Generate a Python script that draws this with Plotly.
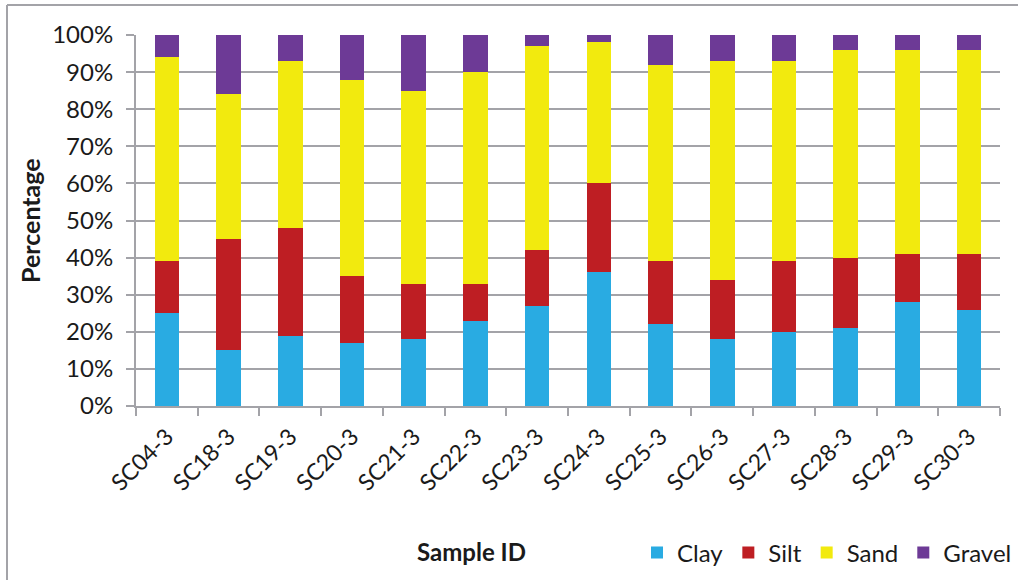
import plotly.graph_objects as go

# Grain-size fractions (%) for each sample
samples = ["SC04-3", "SC18-3", "SC19-3", "SC20-3", "SC21-3", "SC22-3", "SC23-3",
           "SC24-3", "SC25-3", "SC26-3", "SC27-3", "SC28-3", "SC29-3", "SC30-3"]
clay = [25, 15, 19, 17, 18, 23, 27, 36, 22, 18, 20, 21, 28, 26]
silt = [14, 30, 29, 18, 15, 10, 15, 24, 17, 16, 19, 19, 13, 15]
sand = [55, 39, 45, 53, 52, 57, 55, 38, 53, 59, 54, 56, 55, 55]
gravel = [6, 16, 7, 12, 15, 10, 3, 2, 8, 7, 7, 4, 4, 4]

series = [
    ("Clay", clay, "#29ABE2"),
    ("Silt", silt, "#BE1E23"),
    ("Sand", sand, "#F2EA0E"),
    ("Gravel", gravel, "#6D3A96"),
]

FONT = "Lato"
GRID = "#A3A3A8"
TEXT = "#1a1a1a"

# plot area in pixels
L, R, T, B = 136, 1000, 35, 406
PW, PH = R - L, B - T

fig = go.Figure()
for name, vals, color in series:
    fig.add_trace(go.Bar(
        x=samples, y=vals, name=name,
        marker=dict(color=color, line=dict(width=0)),
        width=0.4,
    ))

fig.update_layout(
    barmode="stack",
    width=1018, height=580,
    margin=dict(l=L, r=1018 - R, t=T, b=580 - B),
    paper_bgcolor="white", plot_bgcolor="white",
    font=dict(family=FONT, size=24, color=TEXT),
    showlegend=True,
    legend=dict(
        orientation="h", x=(637 - L) / PW, y=27 / 580, xanchor="left", yanchor="middle",
        xref="paper", yref="container",
        font=dict(family=FONT, size=24, color=TEXT),
        itemwidth=30, tracegroupgap=0, traceorder="normal",
        bgcolor="rgba(0,0,0,0)",
    ),
    xaxis=dict(
        type="category", tickangle=-45,
        showline=True, linecolor=GRID, linewidth=2,
        ticks="outside", tickson="boundaries", ticklen=8, tickcolor=GRID, tickwidth=1.5,
        ticklabelstandoff=6,
        showgrid=False,
        tickfont=dict(family=FONT, size=23, color=TEXT),
    ),
    yaxis=dict(
        range=[0, 100], dtick=10, ticksuffix="%",
        showline=True, linecolor=GRID, linewidth=2,
        ticks="outside", ticklen=8, tickcolor=GRID, tickwidth=1.5,
        ticklabelstandoff=8,
        showgrid=True, gridcolor=GRID, gridwidth=1.5,
        zeroline=False,
        tickfont=dict(family=FONT, size=24, color=TEXT),
    ),
    annotations=[
        dict(text="<b>Sample ID</b>", xref="paper", yref="paper",
             x=(471 - L) / PW, y=-(551 - B) / PH,
             xanchor="center", yanchor="middle", showarrow=False,
             font=dict(family=FONT, size=24, color=TEXT)),
        dict(text="<b>Percentage</b>", xref="paper", yref="paper",
             x=-(L - 30) / PW, y=(B - 221) / PH, textangle=-90,
             xanchor="center", yanchor="middle", showarrow=False,
             font=dict(family=FONT, size=25, color=TEXT)),
    ],
    shapes=[
        dict(type="line", xref="paper", yref="paper",
             x0=-(L - 7) / PW, x1=(1018 - L) / PW,
             y0=(B - 5) / PH, y1=(B - 5) / PH,
             line=dict(color=GRID, width=2)),
        dict(type="line", xref="paper", yref="paper",
             x0=-(L - 7) / PW, x1=-(L - 7) / PW,
             y0=(B - 5) / PH, y1=-(580 - B) / PH,
             line=dict(color=GRID, width=2)),
    ],
)

fig.write_html("out.html")
